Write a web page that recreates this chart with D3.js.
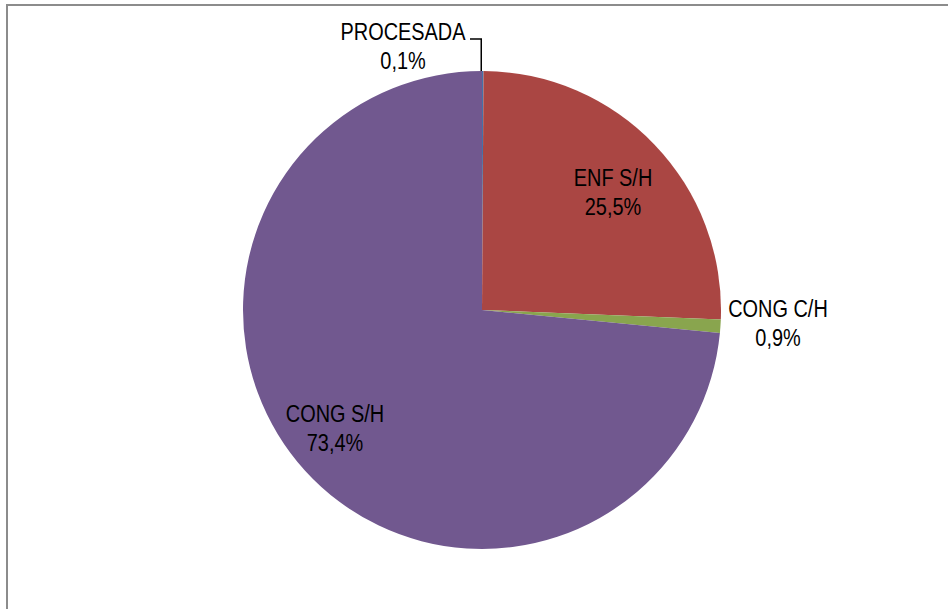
<!DOCTYPE html>
<html>
<head>
<meta charset="utf-8">
<script src="https://cdn.jsdelivr.net/npm/d3@7"></script>
<style>
html,body{margin:0;padding:0;background:#fff;}
svg{display:block;}
text{font-family:"Liberation Sans Narrow","Arial Narrow","Liberation Sans",Arial,sans-serif;font-size:24px;fill:#000;}
</style>
</head>
<body>
<svg id="chart" width="948" height="609"></svg>
<script>
const categories = ["PROCESADA", "ENF S/H", "CONG C/H", "CONG S/H"];
const values = [0.1, 25.5, 0.9, 73.4];
const labels = ["0,1%", "25,5%", "0,9%", "73,4%"];
const colors = ["#4572A7", "#AA4643", "#89A54E", "#71588F"];

const svg = d3.select("#chart");
// chart frame
svg.append("rect").attr("x", 7).attr("y", 5).attr("width", 960).attr("height", 620)
  .attr("fill", "none").attr("stroke", "#8c8c8c").attr("stroke-width", 2);

const cx = 482, cy = 310, r = 239;
const g = svg.append("g").attr("transform", `translate(${cx},${cy})`);
const data = categories.map((c, i) => ({cat: c, value: values[i], label: labels[i], color: colors[i]}));
const pie = d3.pie().value(d => d.value).sort(null);
const arcs = pie(data);
const arc = d3.arc().innerRadius(0).outerRadius(r);

g.selectAll("path").data(arcs).join("path")
  .attr("d", arc).attr("fill", d => d.data.color);

// label positions (relative to center), line spacing 29
const labelPos = [
  {x: 403 - cx, y: 40 - cy},
  {x: 613 - cx, y: 186 - cy},
  {x: 778 - cx, y: 317 - cy},
  {x: 335 - cx, y: 422 - cy}
];
const sx = 0.83;
arcs.forEach((a, i) => {
  const p = labelPos[i];
  const t = g.append("text").attr("text-anchor", "middle")
    .attr("transform", `translate(${p.x},${p.y}) scale(${sx},1)`);
  t.append("tspan").attr("x", 0).attr("y", 0).text(a.data.cat);
  t.append("tspan").attr("x", 0).attr("y", 29).text(a.data.label);
});

// leader line for PROCESADA
const a0 = arcs[0];
const mid = (a0.startAngle + a0.endAngle) / 2;
const ax = r * Math.sin(mid) - 1.5, ay = -r * Math.cos(mid);
g.append("path")
  .attr("d", `M${470 - cx},${39 - cy} L${ax},${39 - cy} L${ax},${ay}`)
  .attr("fill", "none").attr("stroke", "#000").attr("stroke-width", 1.5);
</script>
</body>
</html>
